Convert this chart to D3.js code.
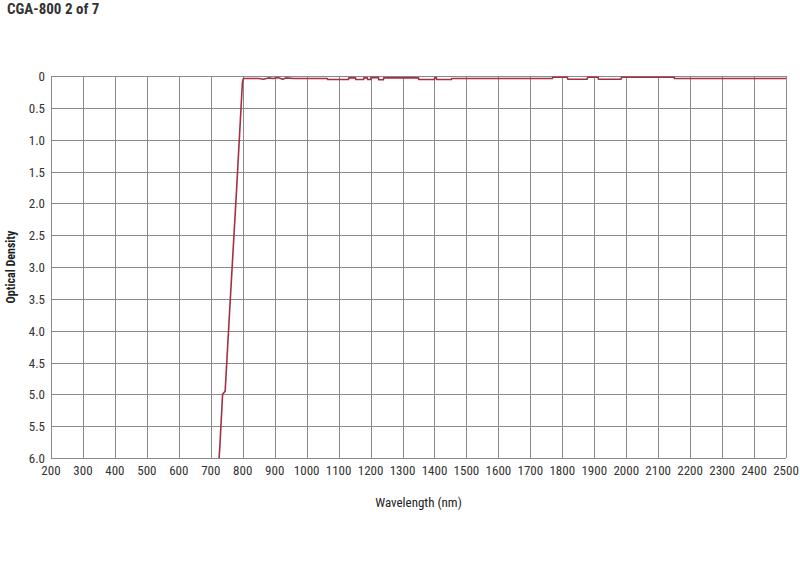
<!DOCTYPE html>
<html>
<head>
<meta charset="utf-8">
<script src="https://cdn.jsdelivr.net/npm/d3@7"></script>
<style>
  body { margin: 0; background: #fff; }
  text { font-family: "Liberation Sans Narrow", "Roboto Condensed", "Arial Narrow", "Liberation Sans", sans-serif; }
</style>
</head>
<body>
<div id="chart"></div>
<script>
'use strict';

// Chart values
const title = 'CGA-800 2 of 7';
const xLabel = 'Wavelength (nm)';
const yLabel = 'Optical Density';
const xTicks = d3.range(200, 2501, 100);
const yTicks = d3.range(0, 6.01, 0.5);
const wavelength = [726, 728, 737, 745, 760, 780, 799, 802, 850, 865, 880, 895, 910, 925, 935, 960,
  1065, 1066, 1131, 1132, 1153, 1154, 1178, 1179, 1190, 1191, 1200, 1201, 1225, 1226, 1240, 1241,
  1350, 1351, 1400, 1401, 1406, 1407, 1453, 1454, 1769, 1770, 1816, 1817, 1878, 1879, 1912, 1913,
  1984, 1985, 2150, 2151, 2500];
const density = [6.0, 5.85, 5.0, 4.95, 3.6, 1.85, 0.1, 0.04, 0.04, 0.05, 0.03, 0.04, 0.025, 0.05, 0.03, 0.04,
  0.04, 0.055, 0.055, 0.03, 0.03, 0.055, 0.055, 0.03, 0.03, 0.055, 0.055, 0.025, 0.025, 0.06, 0.06, 0.03,
  0.03, 0.055, 0.055, 0.025, 0.025, 0.055, 0.055, 0.04, 0.04, 0.02, 0.02, 0.05, 0.05, 0.02, 0.02, 0.05,
  0.05, 0.02, 0.02, 0.04, 0.04];

const data = wavelength.map((w, i) => ({ w: w, od: density[i] }));

// Layout
const width = 800, height = 565;
const plot = { left: 51, right: 786, top: 76, bottom: 458 };

const svg = d3.select('#chart').append('svg')
  .attr('width', width)
  .attr('height', height);

// Scales : OD axis goes downwards
const x = d3.scaleLinear().domain([200, 2500]).range([plot.left, plot.right]);
const y = d3.scaleLinear().domain([0, 6]).range([plot.top, plot.bottom]);

// Grid
svg.append('g')
  .selectAll('line')
  .data(xTicks)
  .enter().append('line')
  .attr('x1', d => Math.round(x(d)) + 0.5)
  .attr('x2', d => Math.round(x(d)) + 0.5)
  .attr('y1', plot.top)
  .attr('y2', plot.bottom)
  .attr('stroke', '#8a8a8a')
  .attr('stroke-width', 1);
svg.append('g')
  .selectAll('line')
  .data(yTicks)
  .enter().append('line')
  .attr('x1', plot.left)
  .attr('x2', plot.right)
  .attr('y1', d => Math.round(y(d)) + 0.5)
  .attr('y2', d => Math.round(y(d)) + 0.5)
  .attr('stroke', '#8a8a8a')
  .attr('stroke-width', 1);

// Tick labels
svg.append('g')
  .selectAll('text')
  .data(xTicks)
  .enter().append('text')
  .attr('x', d => x(d))
  .attr('y', plot.bottom + 17)
  .attr('text-anchor', 'middle')
  .style('font-size', '13px')
  .style('fill', '#333')
  .text(d => d);
svg.append('g')
  .selectAll('text')
  .data(yTicks)
  .enter().append('text')
  .attr('x', plot.left - 6)
  .attr('y', d => y(d) + 5)
  .attr('text-anchor', 'end')
  .style('font-size', '13px')
  .style('fill', '#333')
  .text(d => d === 0 ? '0' : d3.format('.1f')(d));

// Curve
const line = d3.line()
  .x(d => x(d.w))
  .y(d => y(d.od));
svg.append('path')
  .datum(data)
  .attr('d', line)
  .attr('fill', 'none')
  .attr('stroke', '#a52f45')
  .attr('stroke-width', 1.6)
  .attr('stroke-linejoin', 'round');

// Titles
svg.append('text')
  .attr('x', 7)
  .attr('y', 14)
  .style('font-size', '15px')
  .style('font-weight', 'bold')
  .style('fill', '#333')
  .text(title);
svg.append('text')
  .attr('x', (plot.left + plot.right) / 2)
  .attr('y', 507)
  .attr('text-anchor', 'middle')
  .style('font-size', '13px')
  .style('fill', '#222')
  .text(xLabel);
svg.append('text')
  .attr('transform', `translate(15, ${(plot.top + plot.bottom) / 2}) rotate(-90)`)
  .attr('text-anchor', 'middle')
  .style('font-size', '12px')
  .style('font-weight', 'bold')
  .style('fill', '#222')
  .text(yLabel);
</script>
</body>
</html>
